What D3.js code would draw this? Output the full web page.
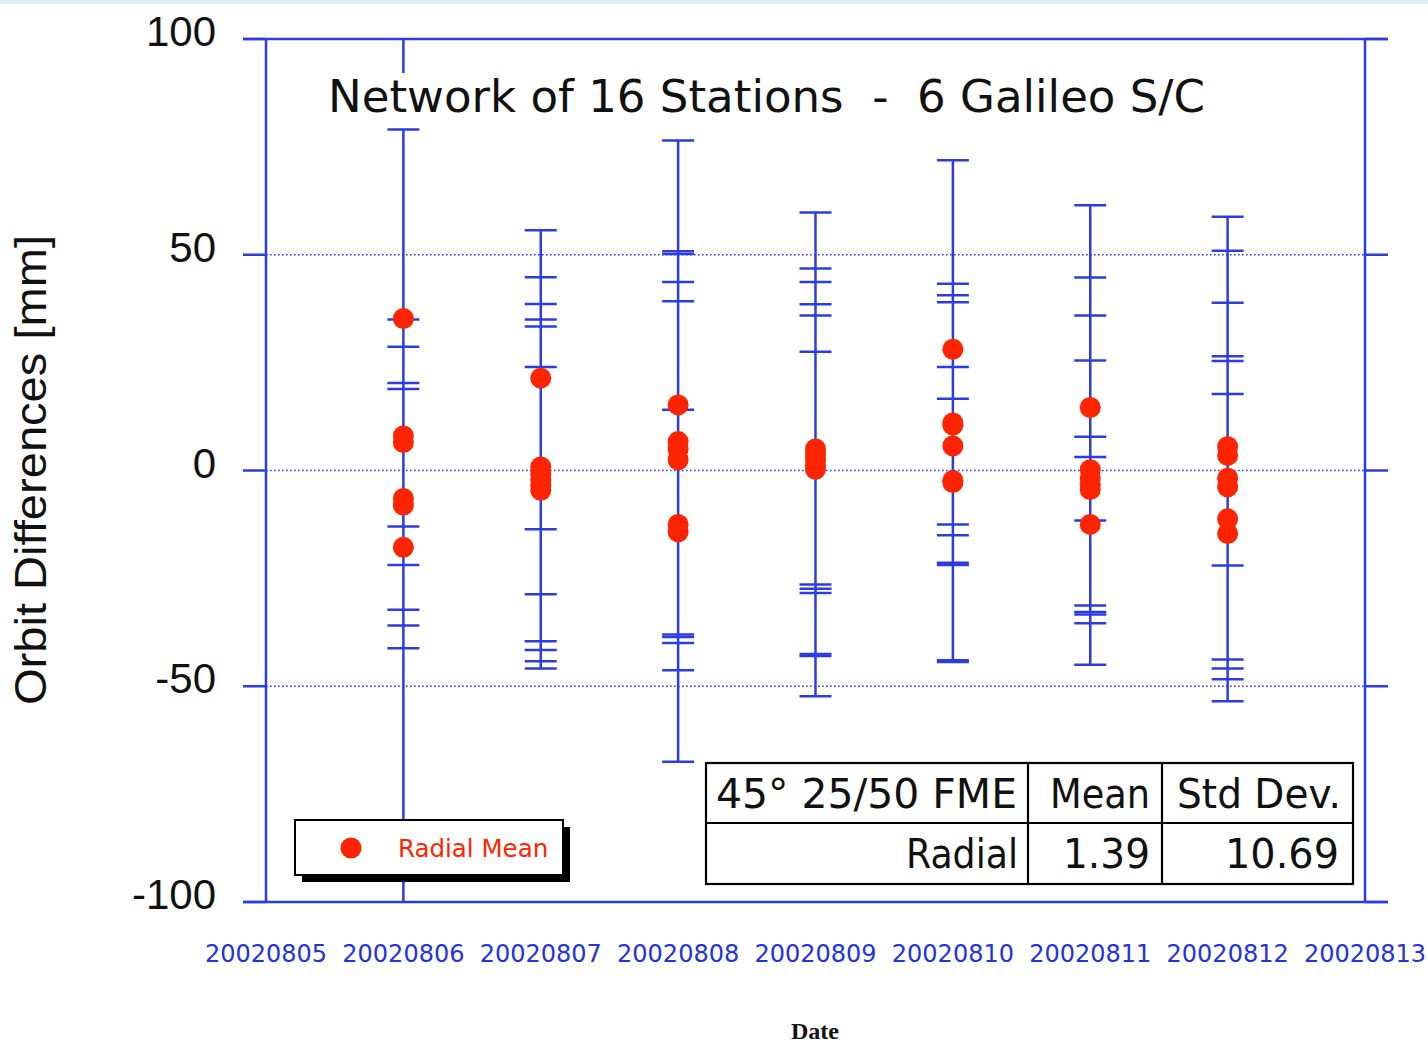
<!DOCTYPE html>
<html>
<head>
<meta charset="utf-8">
<script src="https://cdn.jsdelivr.net/npm/d3@7/dist/d3.min.js"></script>
<style>
  body { margin: 0; background: white; }
  svg { display: block; }
</style>
</head>
<body>
<svg id="chart"></svg>
<script>
const dates = ["20020805", "20020806", "20020807", "20020808", "20020809", "20020810", "20020811", "20020812", "20020813"]
const barDays = ["20020806", "20020807", "20020808", "20020809", "20020810", "20020811", "20020812"]

// radial means of each S/C per day (mm)
const meanValues = [
  [35.2, 8, 6.5, -6.5, -8, -17.8],
  [21.4, 0.8, -0.8, -2.2, -3.4, -4.6],
  [15.2, 6.7, 5, 2.5, -12.5, -14.2],
  [5, 3.8, 2.5, 1.2, 0.3],
  [28.1, 11, 10.5, 5.7, -2.3, -2.8],
  [14.6, 0.2, -1.8, -3.2, -4.4, -12.5],
  [5.5, 3.5, -1.8, -3.8, -11.2, -14.6]
]

// error bar end marks per day (mm)
const barEnds = [
  [79, 35, 28.7, 20.3, 18.9, -13, -21.9, -32.3, -35.9, -41.2, -108],
  [55.7, 44.8, 38.6, 35, 33.4, 24, -13.6, -28.7, -39.6, -41.6, -44.2, -45.9],
  [76.5, 50.8, 50.2, 43.7, 39.2, 14.1, -38, -38.6, -40, -46.3, -67.5],
  [59.8, 46.8, 43.7, 38.5, 35.9, 27.5, -26.4, -27.4, -28.4, -42.5, -43, -52.3],
  [71.9, 43.3, 40.6, 39, 24, 16.6, -12.5, -15, -21.4, -21.9, -44, -44.4],
  [61.5, 44.7, 35.9, 25.5, 7.8, 3.1, -11.6, -31.3, -32.8, -33.4, -35.4, -45],
  [58.8, 50.9, 38.9, 26.5, 25.4, 17.7, -22, -43.8, -45.9, -48.4, -53.5]
]

const yTicks = [100, 50, 0, -50, -100]
const gridValues = [50, 0, -50]

const tableHeader = ["45\u00b0 25/50 FME", "Mean", "Std Dev."]
const tableRow = ["Radial", "1.39", "10.69"]

const title = "Network of 16 Stations  -  6 Galileo S/C"
const yTitle = "Orbit Differences [mm]"
const xTitle = "Date"
const legendLabel = "Radial Mean"

const width = 1428
const height = 1045
const blue = "#2b3de2"
const red = "#ff2400"
const plotLeft = 266, plotRight = 1365, plotTop = 39, plotBottom = 902

const svg = d3.select("#chart").attr("width", width).attr("height", height)

svg.append("rect").attr("width", width).attr("height", 4).attr("fill", "#dcedfa")

const x = d3.scalePoint().domain(dates).range([plotLeft, plotRight])
const y = d3.scaleLinear().domain([-100, 100]).range([plotBottom, plotTop])

svg.append("clipPath").attr("id", "plot")
  .append("rect").attr("x", plotLeft).attr("y", plotTop)
  .attr("width", plotRight - plotLeft).attr("height", plotBottom - plotTop)

// grid
svg.selectAll(".grid")
  .data(gridValues)
  .join("line")
  .attr("x1", plotLeft).attr("x2", plotRight)
  .attr("y1", d => y(d)).attr("y2", d => y(d))
  .attr("stroke", blue)
  .attr("stroke-width", 1.6)
  .attr("stroke-dasharray", "1.6,2.4")

// frame
const frame = svg.append("g").attr("stroke", blue).attr("stroke-width", 2.5)
frame.append("line").attr("x1", plotLeft - 23).attr("x2", plotRight + 23).attr("y1", plotTop).attr("y2", plotTop)
frame.append("line").attr("x1", plotLeft - 23).attr("x2", plotRight + 23).attr("y1", plotBottom).attr("y2", plotBottom)
frame.append("line").attr("x1", plotLeft).attr("x2", plotLeft).attr("y1", plotTop).attr("y2", plotBottom)
frame.append("line").attr("x1", plotRight).attr("x2", plotRight).attr("y1", plotTop).attr("y2", plotBottom)
frame.selectAll(".ytick")
  .data(yTicks)
  .join("g")
  .each(function(d) {
    d3.select(this).append("line").attr("x1", plotLeft - 23).attr("x2", plotLeft).attr("y1", y(d)).attr("y2", y(d))
    d3.select(this).append("line").attr("x1", plotRight).attr("x2", plotRight + 23).attr("y1", y(d)).attr("y2", y(d))
  })
frame.append("line")
  .attr("x1", x(dates[1])).attr("x2", x(dates[1]))
  .attr("y1", plotTop).attr("y2", plotTop + 34)

// y tick labels
svg.selectAll(".ylabel")
  .data(yTicks)
  .join("text")
  .attr("x", 216)
  .attr("y", d => y(d) + 7)
  .attr("text-anchor", "end")
  .attr("font-family", "Liberation Sans, Arial, sans-serif")
  .attr("font-size", 42)
  .attr("fill", "#111")
  .text(d => d)

// x tick labels
svg.selectAll(".xlabel")
  .data(dates)
  .join("text")
  .attr("x", d => x(d))
  .attr("y", 962)
  .attr("text-anchor", "middle")
  .attr("font-family", "DejaVu Sans, sans-serif")
  .attr("font-size", 24)
  .attr("fill", "#2233dd")
  .text(d => d)

svg.append("text")
  .attr("x", 815).attr("y", 1039)
  .attr("text-anchor", "middle")
  .attr("font-family", "Liberation Serif, serif")
  .attr("font-weight", "bold")
  .attr("font-size", 24)
  .attr("fill", "#111")
  .text(xTitle)

svg.append("text")
  .attr("transform", "translate(46,470) rotate(-90)")
  .attr("text-anchor", "middle")
  .attr("font-family", "Liberation Sans, Arial, sans-serif")
  .attr("font-size", 44)
  .attr("textLength", 470)
  .attr("lengthAdjust", "spacingAndGlyphs")
  .attr("fill", "#111")
  .text(yTitle)

svg.append("text")
  .attr("x", 328).attr("y", 112)
  .attr("font-family", "DejaVu Sans, sans-serif")
  .attr("font-size", 44)
  .attr("textLength", 877)
  .attr("lengthAdjust", "spacingAndGlyphs")
  .attr("style", "white-space: pre")
  .attr("fill", "#111")
  .text(title)

// error bars
const bars = svg.append("g").attr("clip-path", "url(#plot)")
barDays.forEach((day, i) => {
  const g = bars.append("g").attr("stroke", blue).attr("stroke-width", 2.5)
  g.append("line")
    .attr("x1", x(day)).attr("x2", x(day))
    .attr("y1", y(d3.max(barEnds[i]))).attr("y2", y(d3.min(barEnds[i])))
  g.selectAll(".cap")
    .data(barEnds[i])
    .join("line")
    .attr("x1", x(day) - 16).attr("x2", x(day) + 16)
    .attr("y1", d => y(d)).attr("y2", d => y(d))
})

// means
barDays.forEach((day, i) => {
  svg.append("g").selectAll("circle")
    .data(meanValues[i])
    .join("circle")
    .attr("cx", x(day))
    .attr("cy", d => y(d))
    .attr("r", 10.5)
    .attr("fill", red)
})

// legend
svg.append("rect").attr("x", 302).attr("y", 827).attr("width", 268).attr("height", 55).attr("fill", "#000")
svg.append("rect").attr("x", 295).attr("y", 820).attr("width", 268).attr("height", 55)
  .attr("fill", "white").attr("stroke", "#000").attr("stroke-width", 2)
svg.append("circle").attr("cx", 351).attr("cy", 848).attr("r", 10.5).attr("fill", red)
svg.append("text")
  .attr("x", 398).attr("y", 857)
  .attr("font-family", "DejaVu Sans, sans-serif")
  .attr("font-size", 24.5)
  .attr("fill", red)
  .text(legendLabel)

// stats table
const colX = [706, 1028, 1162, 1353]
const rowY = [763, 823, 884]
const table = svg.append("g")
table.append("rect")
  .attr("x", colX[0]).attr("y", rowY[0])
  .attr("width", colX[3] - colX[0]).attr("height", rowY[2] - rowY[0])
  .attr("fill", "white").attr("stroke", "#000").attr("stroke-width", 2.2)
table.append("line").attr("x1", colX[0]).attr("x2", colX[3]).attr("y1", rowY[1]).attr("y2", rowY[1])
  .attr("stroke", "#000").attr("stroke-width", 2.2)
colX.slice(1, 3).forEach(cx => {
  table.append("line").attr("x1", cx).attr("x2", cx).attr("y1", rowY[0]).attr("y2", rowY[2])
    .attr("stroke", "#000").attr("stroke-width", 2.2)
})
const tableText = (txt, xx, yy, anchor, len) => table.append("text")
  .attr("x", xx).attr("y", yy)
  .attr("text-anchor", anchor)
  .attr("font-family", "DejaVu Sans, sans-serif")
  .attr("font-size", 40)
  .attr("textLength", len)
  .attr("lengthAdjust", "spacingAndGlyphs")
  .attr("fill", "#111")
  .text(txt)
tableText(tableHeader[0], 716, 808, "start", 301)
tableText(tableHeader[1], 1100, 808, "middle", 100)
tableText(tableHeader[2], colX[3] - 12, 808, "end", 164)
tableText(tableRow[0], colX[1] - 10, 868, "end", 112)
tableText(tableRow[1], colX[2] - 12, 868, "end", 87)
tableText(tableRow[2], colX[3] - 14, 868, "end", 114)
</script>
</body>
</html>
